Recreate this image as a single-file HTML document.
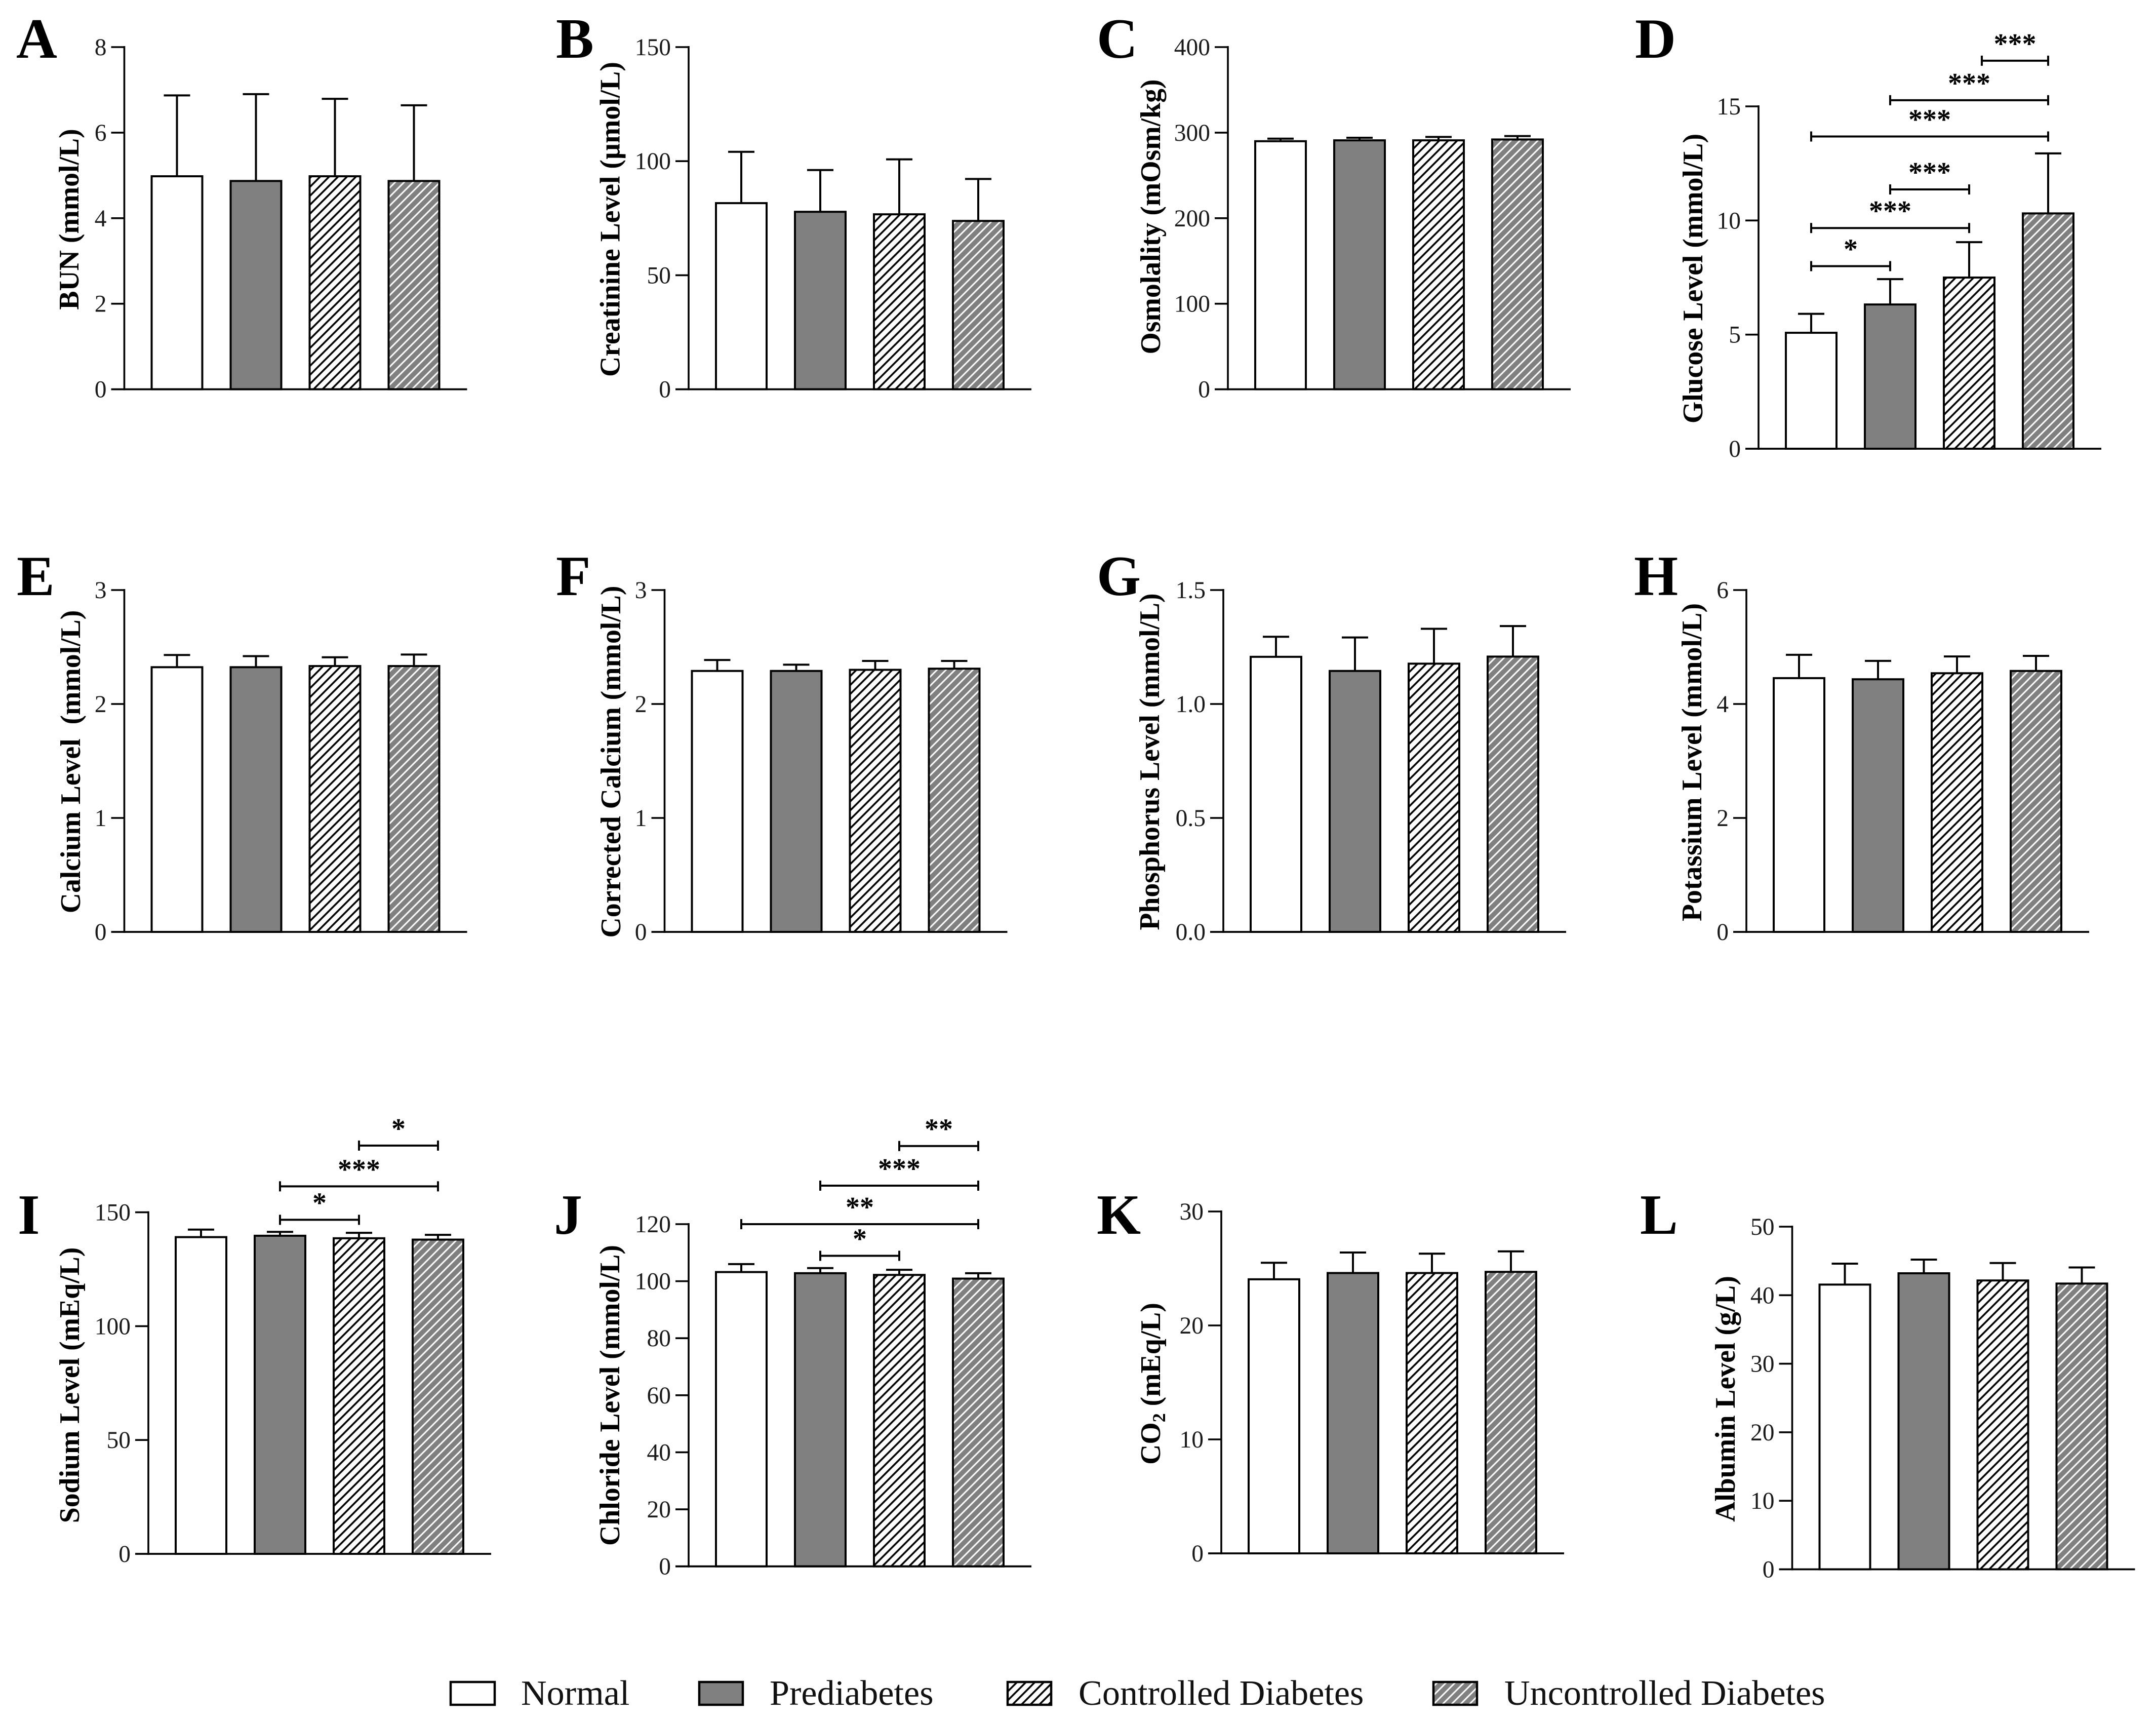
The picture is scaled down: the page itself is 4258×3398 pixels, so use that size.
<!DOCTYPE html>
<html lang="en">
<head>
<meta charset="utf-8">
<title>Biochemical parameters by diabetes status</title>
<style>
html,body{margin:0;padding:0;background:#fff;}
svg{display:block;}
text{font-family:"Liberation Serif","DejaVu Serif",serif;fill:#000;}
.letter{font-size:112px;font-weight:bold;}
.ytitle{font-size:55.7px;font-weight:bold;text-anchor:middle;white-space:pre;}
.legend-text{font-size:70.2px;fill:#111;}
.tick-label{font-size:47.5px;text-anchor:end;fill:#1a1a1a;}
.stars{font-size:56px;font-weight:bold;text-anchor:middle;}
</style>
</head>
<body>
<svg id="figure" xmlns="http://www.w3.org/2000/svg" width="4258" height="3398" viewBox="0 0 4258 3398">
  <defs>
    <pattern id="hatch-controlled" patternUnits="userSpaceOnUse" width="12.5" height="12.5" patternTransform="rotate(-45)">
      <rect width="12.5" height="12.5" fill="#fff"/>
      <rect y="4.5" width="12.5" height="3.6" fill="#000"/>
    </pattern>
    <pattern id="hatch-uncontrolled" patternUnits="userSpaceOnUse" width="12.5" height="12.5" patternTransform="rotate(-45)">
      <rect width="12.5" height="12.5" fill="#808080"/>
      <rect y="4.8" width="12.5" height="3" fill="#fff"/>
    </pattern>
  </defs>
  <rect width="4258" height="3398" fill="#fff"/>

  <text class="letter" x="32" y="114">A</text>
  <text class="letter" x="1098" y="114">B</text>
  <text class="letter" x="2166" y="114">C</text>
  <text class="letter" x="3229" y="114">D</text>
  <text class="letter" x="33" y="1175">E</text>
  <text class="letter" x="1098" y="1175">F</text>
  <text class="letter" x="2166" y="1175">G</text>
  <text class="letter" x="3227" y="1175">H</text>
  <text class="letter" x="35" y="2436">I</text>
  <text class="letter" x="1094" y="2436">J</text>
  <text class="letter" x="2166" y="2436">K</text>
  <text class="letter" x="3239" y="2436">L</text>

  <text class="ytitle" transform="translate(155 433) rotate(-90)">BUN (mmol/L)</text>
  <text class="ytitle" transform="translate(1223.5 433) rotate(-90)">Creatinine Level (µmol/L)</text>
  <text class="ytitle" transform="translate(2291 428) rotate(-90)">Osmolality (mOsm/kg)</text>
  <text class="ytitle" transform="translate(3362 550) rotate(-90)">Glucose Level (mmol/L)</text>
  <text class="ytitle" transform="translate(158 1504) rotate(-90)">Calcium Level  (mmol/L)</text>
  <text class="ytitle" transform="translate(1225 1504) rotate(-90)">Corrected Calcium (mmol/L)</text>
  <text class="ytitle" transform="translate(2289 1504) rotate(-90)">Phosphorus Level (mmol/L)</text>
  <text class="ytitle" transform="translate(3360 1505) rotate(-90)">Potassium Level (mmol/L)</text>
  <text class="ytitle" transform="translate(156 2735) rotate(-90)">Sodium Level (mEq/L)</text>
  <text class="ytitle" transform="translate(1223 2755) rotate(-90)">Chloride Level (mmol/L)</text>
  <text class="ytitle" transform="translate(2291 2732) rotate(-90)">CO<tspan font-size="36" dy="10">2</tspan><tspan dy="-10"> (mEq/L)</tspan></text>
  <text class="ytitle" transform="translate(3426 2762) rotate(-90)">Albumin Level (g/L)</text>

  <g>
    <rect x="890" y="3321" width="87" height="45" fill="#fff" stroke="#000" stroke-width="4.5"/>
    <text class="legend-text" x="1029" y="3366">Normal</text>
    <rect x="1381" y="3321" width="86" height="45" fill="#808080" stroke="#000" stroke-width="4.5"/>
    <text class="legend-text" x="1520" y="3366">Prediabetes</text>
    <rect x="1990" y="3321" width="86" height="45" fill="url(#hatch-controlled)" stroke="#000" stroke-width="4.5"/>
    <text class="legend-text" x="2130" y="3366">Controlled Diabetes</text>
    <rect x="2831" y="3321" width="86" height="45" fill="url(#hatch-uncontrolled)" stroke="#000" stroke-width="4.5"/>
    <text class="legend-text" x="2971" y="3366">Uncontrolled Diabetes</text>
  </g>
</svg>

<script>
// ---- data ----
const groupKeys = ['normal', 'prediabetes', 'controlled', 'uncontrolled'];

const bunMeans = [4.98, 4.87, 4.98, 4.87];
const bunErrorTops = [6.87, 6.9, 6.79, 6.64];
const bunTicks = ['0', '2', '4', '6', '8'];

const creatinineMeans = [81.6, 77.8, 76.7, 73.8];
const creatinineErrorTops = [104.1, 96.1, 100.8, 92.2];
const creatinineTicks = ['0', '50', '100', '150'];

const osmolalityMeans = [290, 291, 291, 292];
const osmolalityErrorTops = [293, 294, 295, 296];
const osmolalityTicks = ['0', '100', '200', '300', '400'];

const glucoseMeans = [5.08, 6.32, 7.5, 10.31];
const glucoseErrorTops = [5.91, 7.43, 9.05, 12.94];
const glucoseTicks = ['0', '5', '10', '15'];
const glucoseBracketFrom = [0, 0, 1, 0, 1, 2.16];
const glucoseBracketTo = [1, 2, 2, 3, 3, 3];
const glucoseBracketLevels = [8.0, 9.67, 11.36, 13.68, 15.27, 17.0];
const glucoseBracketStars = ['*', '***', '***', '***', '***', '***'];

const calciumMeans = [2.323, 2.323, 2.333, 2.333];
const calciumErrorTops = [2.43, 2.42, 2.41, 2.434];
const calciumTicks = ['0', '1', '2', '3'];

const correctedCalciumMeans = [2.29, 2.29, 2.30, 2.31];
const correctedCalciumErrorTops = [2.386, 2.345, 2.378, 2.378];
const correctedCalciumTicks = ['0', '1', '2', '3'];

const phosphorusMeans = [1.207, 1.145, 1.177, 1.208];
const phosphorusErrorTops = [1.295, 1.292, 1.33, 1.342];
const phosphorusTicks = ['0.0', '0.5', '1.0', '1.5'];

const potassiumMeans = [4.454, 4.434, 4.54, 4.58];
const potassiumErrorTops = [4.863, 4.757, 4.834, 4.844];
const potassiumTicks = ['0', '2', '4', '6'];

const sodiumMeans = [139.1, 139.7, 138.6, 138.0];
const sodiumErrorTops = [142.4, 141.4, 141.0, 140.1];
const sodiumTicks = ['0', '50', '100', '150'];
const sodiumBracketFrom = [1, 1, 2];
const sodiumBracketTo = [2, 3, 3];
const sodiumBracketLevels = [146.7, 161.4, 179.3];
const sodiumBracketStars = ['*', '***', '*'];

const chlorideMeans = [103.2, 102.8, 102.2, 100.9];
const chlorideErrorTops = [106, 104.6, 104, 102.8];
const chlorideTicks = ['0', '20', '40', '60', '80', '100', '120'];
const chlorideBracketFrom = [1, 0, 1, 2];
const chlorideBracketTo = [2, 3, 3, 3];
const chlorideBracketLevels = [108.9, 120, 133.5, 147.4];
const chlorideBracketStars = ['*', '**', '***', '**'];

const co2Means = [24.05, 24.6, 24.6, 24.7];
const co2ErrorTops = [25.5, 26.4, 26.3, 26.5];
const co2Ticks = ['0', '10', '20', '30'];

const albuminMeans = [41.55, 43.2, 42.15, 41.7];
const albuminErrorTops = [44.6, 45.2, 44.7, 44.05];
const albuminTicks = ['0', '10', '20', '30', '40', '50'];

// ---- layout ----
const panels = [
  {key:'bun', means:bunMeans, tops:bunErrorTops, ticks:bunTicks, axisX:245.5, yTop:93, yBase:768.6},
  {key:'creatinine', means:creatinineMeans, tops:creatinineErrorTops, ticks:creatinineTicks, axisX:1360, yTop:93, yBase:768.6},
  {key:'osmolality', means:osmolalityMeans, tops:osmolalityErrorTops, ticks:osmolalityTicks, axisX:2425, yTop:93, yBase:768.6},
  {key:'glucose', means:glucoseMeans, tops:glucoseErrorTops, ticks:glucoseTicks, axisX:3473, yTop:210, yBase:886,
    from:glucoseBracketFrom, to:glucoseBracketTo, levels:glucoseBracketLevels, stars:glucoseBracketStars},
  {key:'calcium', means:calciumMeans, tops:calciumErrorTops, ticks:calciumTicks, axisX:245.5, yTop:1165, yBase:1840},
  {key:'corrected-calcium', means:correctedCalciumMeans, tops:correctedCalciumErrorTops, ticks:correctedCalciumTicks, axisX:1312.5, yTop:1165, yBase:1840},
  {key:'phosphorus', means:phosphorusMeans, tops:phosphorusErrorTops, ticks:phosphorusTicks, axisX:2416, yTop:1165, yBase:1840},
  {key:'potassium', means:potassiumMeans, tops:potassiumErrorTops, ticks:potassiumTicks, axisX:3449, yTop:1165, yBase:1840},
  {key:'sodium', means:sodiumMeans, tops:sodiumErrorTops, ticks:sodiumTicks, axisX:293, yTop:2393.6, yBase:3068,
    from:sodiumBracketFrom, to:sodiumBracketTo, levels:sodiumBracketLevels, stars:sodiumBracketStars},
  {key:'chloride', means:chlorideMeans, tops:chlorideErrorTops, ticks:chlorideTicks, axisX:1360, yTop:2417, yBase:3092.7,
    from:chlorideBracketFrom, to:chlorideBracketTo, levels:chlorideBracketLevels, stars:chlorideBracketStars},
  {key:'co2', means:co2Means, tops:co2ErrorTops, ticks:co2Ticks, axisX:2412, yTop:2392, yBase:3067},
  {key:'albumin', means:albuminMeans, tops:albuminErrorTops, ticks:albuminTicks, axisX:3539.5, yTop:2422, yBase:3098.5}
];

const barFills = ['#fff', '#808080', 'url(#hatch-controlled)', 'url(#hatch-uncontrolled)'];
const firstBarOffset = 104, barStep = 156, barWidth = 100;
const tickLength = 26, xAxisLength = 677, capHalf = 26, bracketCap = 10;

const NS = 'http://www.w3.org/2000/svg';
const figure = document.getElementById('figure');

function shape(tag, parent, props) {
  const el = document.createElementNS(NS, tag);
  Object.keys(props).forEach(function (k) { el.setAttribute(k, props[k]); });
  parent.appendChild(el);
  return el;
}
function seg(parent, x1, y1, x2, y2, w) {
  return shape('line', parent, {x1: x1, y1: y1, x2: x2, y2: y2, stroke: '#000', 'stroke-width': w});
}

panels.forEach(function (p) {
  const yMax = parseFloat(p.ticks[p.ticks.length - 1]);
  const yScale = function (v) { return p.yBase - (v / yMax) * (p.yBase - p.yTop); };
  const xScale = function (i) { return p.axisX + firstBarOffset + barStep * i; };

  const g = shape('g', figure, {});
  
  

  p.means.forEach(function (m, i) {
    const cx = xScale(i);
    const stem = seg(g, cx, yScale(m), cx, yScale(p.tops[i]), 4);
    
    
    const cap = seg(g, cx - capHalf, yScale(p.tops[i]), cx + capHalf, yScale(p.tops[i]), 4);
    
    
    const bar = shape('rect', g, {
      x: cx - barWidth / 2, y: yScale(m), width: barWidth, height: p.yBase - yScale(m),
      fill: barFills[i], stroke: '#000', 'stroke-width': 4
    });
    
    
  });

  const yAxis = seg(g, p.axisX, p.yTop - 2, p.axisX, p.yBase + 2, 3.6);
  
  
  const xAxis = seg(g, p.axisX - tickLength, p.yBase, p.axisX + xAxisLength, p.yBase, 3.8);
  
  

  p.ticks.forEach(function (label) {
    const y = yScale(parseFloat(label));
    if (parseFloat(label) !== 0) {
      const tick = seg(g, p.axisX - tickLength, y, p.axisX, y, 3.6);
      
      
    }
    const t = shape('text', g, {x: p.axisX - tickLength - 9, y: y + 16, 'class': 'tick-label'});
    t.textContent = label;
    
    
  });

  if (p.levels) {
    p.levels.forEach(function (level, b) {
      const y = yScale(level), x1 = xScale(p.from[b]), x2 = xScale(p.to[b]);
      const br = shape('g', g, {});
      
      
      seg(br, x1, y, x2, y, 4);
      seg(br, x1, y - bracketCap, x1, y + bracketCap, 4);
      seg(br, x2, y - bracketCap, x2, y + bracketCap, 4);
      const s = shape('text', g, {x: (x1 + x2) / 2, y: y - 15, 'class': 'stars'});
      s.textContent = p.stars[b];
      
      
    });
  }
});
</script>
</body>
</html>
